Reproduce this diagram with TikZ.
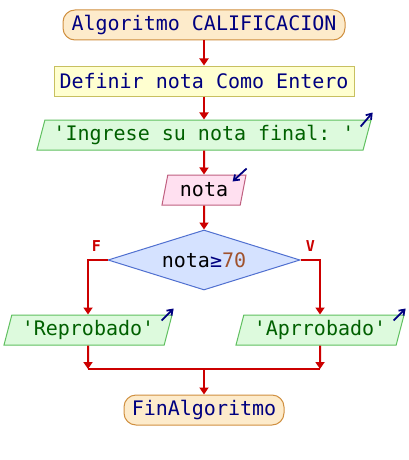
\documentclass[tikz,border=0pt]{standalone}
\usepackage{fontspec}
\setmonofont{DejaVu Sans Mono}
\usetikzlibrary{arrows.meta,positioning,shapes.geometric}
\definecolor{termfill}{HTML}{FDEBCB}
\definecolor{termline}{HTML}{D09040}
\definecolor{deffill}{HTML}{FFFFD0}
\definecolor{defline}{HTML}{C8C060}
\definecolor{outfill}{HTML}{DDFADD}
\definecolor{outline}{HTML}{60C060}
\definecolor{outtext}{HTML}{006000}
\definecolor{infill}{HTML}{FFE0F0}
\definecolor{inline}{HTML}{C06080}
\definecolor{condfill}{HTML}{D5E2FF}
\definecolor{condline}{HTML}{5070D0}
\definecolor{flowred}{HTML}{CC0000}
\definecolor{navy}{HTML}{000080}
\definecolor{numbrown}{HTML}{A0522D}

\begin{document}
\begin{tikzpicture}[x=1pt,y=-1pt,
  node distance=25pt,
  box/.style={draw,font=\ttfamily\fontsize{20}{20}\selectfont,
    minimum height=30pt,inner sep=0pt,line width=1pt},
  term/.style={box,rounded corners=12pt,fill=termfill,draw=termline,text=navy},
  defbox/.style={box,fill=deffill,draw=defline,text=navy},
  para/.style={box,trapezium,trapezium left angle=68,trapezium right angle=112,
    trapezium stretches body},
  outbox/.style={para,fill=outfill,draw=outline,text=outtext},
  inbox/.style={para,fill=infill,draw=inline,text=black},
  cond/.style={box,diamond,aspect=3.2,minimum width=192pt,minimum height=60pt,
    fill=condfill,draw=condline},
  flow/.style={-{Triangle[length=7pt,width=9pt]},draw=flowred,line width=2pt},
  plain/.style={draw=flowred,line width=2pt},
  iconarr/.style={-{Straight Barb[length=5pt,width=7pt]},draw=navy,line width=1.8pt},
  branch/.style={text=flowred,font=\ttfamily\bfseries\fontsize{15}{15}\selectfont}]
\useasboundingbox[fill=white] (0,0) rectangle (408,460);

\node[term,minimum width=282pt] (start) at (204,25) {Algoritmo CALIFICACION};
\node[defbox,minimum width=300pt,below=of start] (def) {Definir nota Como Entero};
\node[outbox,minimum width=334pt] (ing) at (204,135) {'Ingrese su nota final: '};
\node[inbox,minimum width=84pt] (inp) at (204,190) {nota};
\node[cond] (test) at (204,260) {nota{\color{navy}≥}{\color{numbrown}70}};
\node[outbox,minimum width=168pt] (rep) at (88,330) {'Reprobado'};
\node[outbox,minimum width=168pt] (apr) at (320,330) {'Aprrobado'};
\coordinate (join) at (204,369);
\node[term,minimum width=160pt] (fin) at (204,410) {FinAlgoritmo};

% flow
\draw[flow] (start) -- (def);
\draw[flow] (def) -- (ing);
\draw[flow] (ing) -- (inp);
\draw[flow] (inp) -- (test);
\draw[flow] (test.west) -| (rep.north);
\draw[flow] (test.east) -| (apr.north);
\node[branch] at ([shift={(-11,-14)}]test.west) {F};
\node[branch] at ([shift={(10,-14)}]test.east) {V};
\draw[plain] (rep |- join) -- (apr |- join);
\draw[flow] (rep.south) -- (rep |- join);
\draw[flow] (apr.south) -- (apr |- join);
\draw[flow] (join) -- (fin);

% in/out marks
\draw[iconarr] ([shift={(-11,7)}]ing.top right corner) -- ([shift={(1,-7)}]ing.top right corner);
\draw[iconarr] ([shift={(0,-6)}]inp.top right corner) -- ([shift={(-14,7)}]inp.top right corner);
\draw[iconarr] ([shift={(-11,6)}]rep.top right corner) -- ([shift={(1,-6)}]rep.top right corner);
\draw[iconarr] ([shift={(-11,6)}]apr.top right corner) -- ([shift={(1,-6)}]apr.top right corner);
\end{tikzpicture}
\end{document}
